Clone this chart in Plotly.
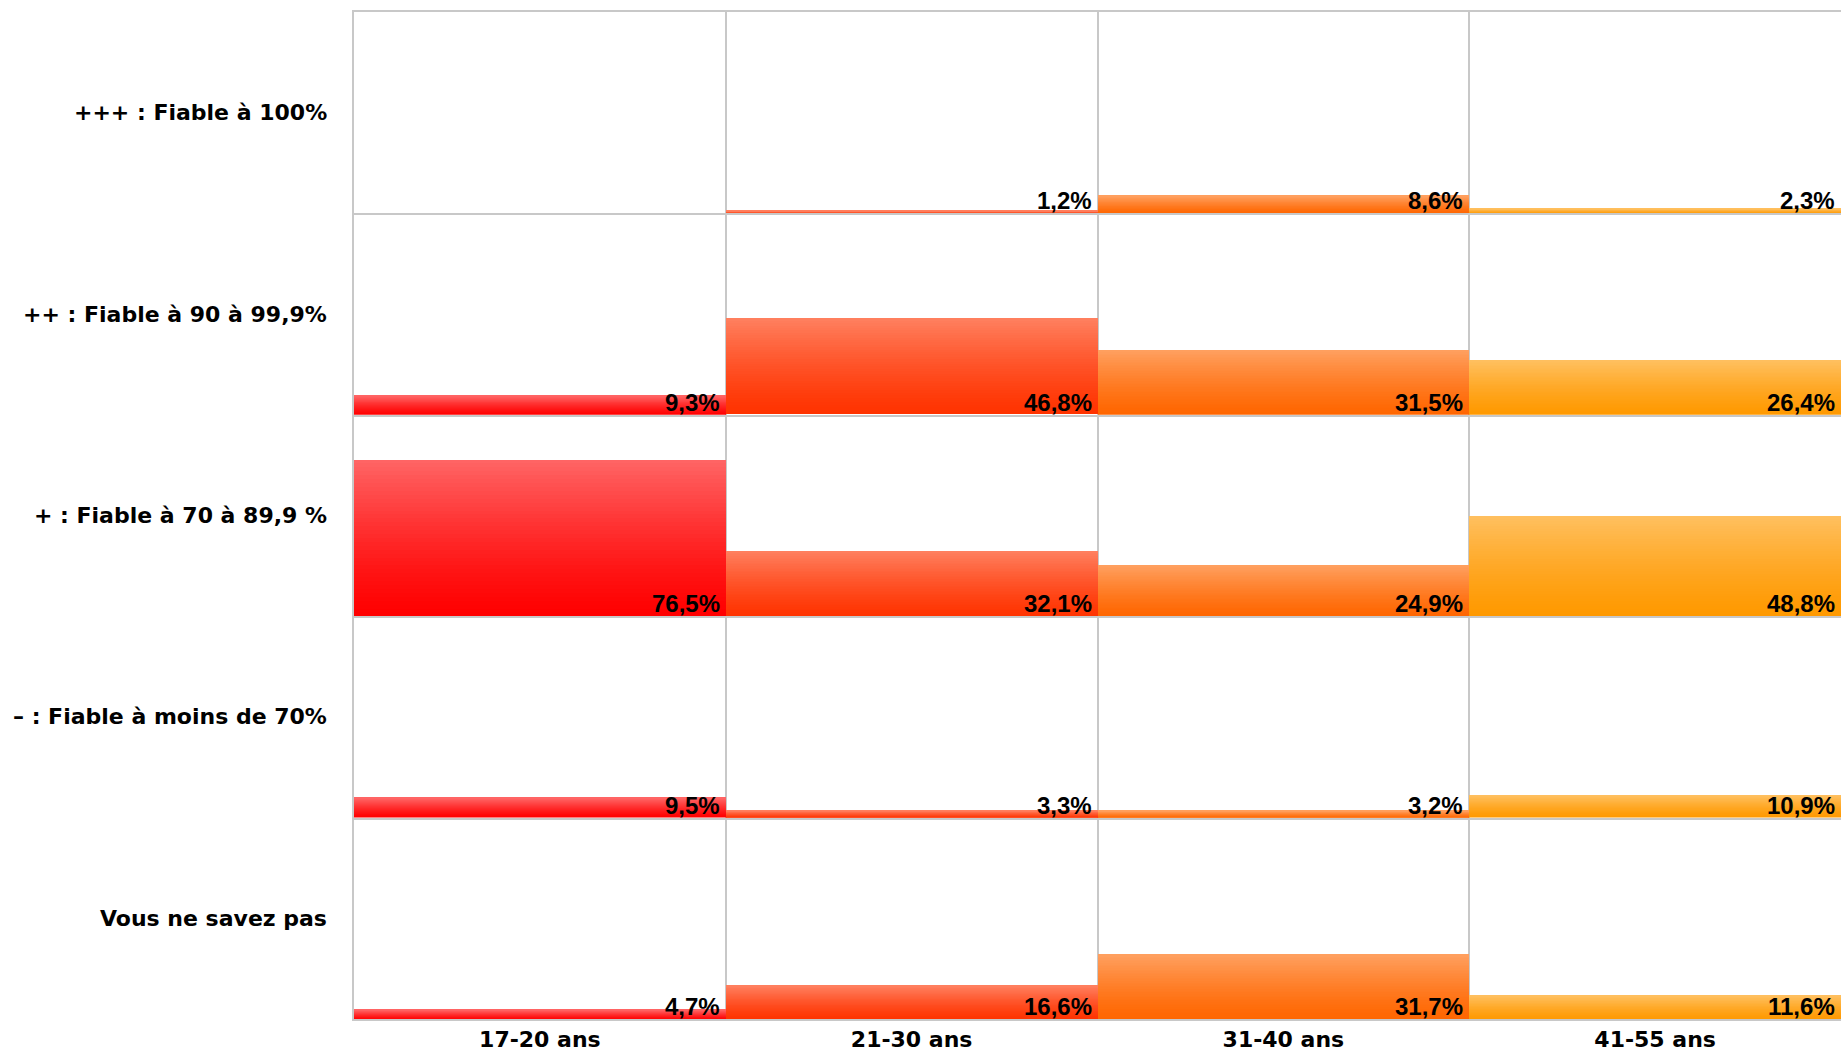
import plotly.graph_objects as go
from plotly.subplots import make_subplots

# ---- data ----
age_groups = ["17-20 ans", "21-30 ans", "31-40 ans", "41-55 ans"]
categories = [
    "+++ : Fiable à 100%",
    "++ : Fiable à 90 à 99,9%",
    "+ : Fiable à 70 à 89,9 %",
    "\u2013 : Fiable à moins de 70%",
    "Vous ne savez pas",
]
values_17_20 = [0.0, 9.3, 76.5, 9.5, 4.7]
values_21_30 = [1.2, 46.8, 32.1, 3.3, 16.6]
values_31_40 = [8.6, 31.5, 24.9, 3.2, 31.7]
values_41_55 = [2.3, 26.4, 48.8, 10.9, 11.6]
series = [values_17_20, values_21_30, values_31_40, values_41_55]

# gradient colors (top light -> bottom saturated) per age group
top_colors = [(255, 102, 102), (255, 128, 96), (255, 160, 96), (255, 192, 96)]
bottom_colors = [(255, 0, 0), (255, 51, 0), (255, 102, 0), (255, 153, 0)]

N_SEG = 40
n_rows = len(categories)

fig = make_subplots(rows=n_rows, cols=1, vertical_spacing=0, shared_xaxes=True)


def mix(c1, c2, t):
    return "rgb(%d,%d,%d)" % tuple(round(a + (b - a) * t) for a, b in zip(c1, c2))


LABEL_FONT = "DejaVu Sans, Verdana, sans-serif"
VALUE_FONT = "Liberation Sans, Arial, sans-serif"

annotations = []
for r in range(n_rows):
    xs, ys, bases, cols = [], [], [], []
    for c in range(len(age_groups)):
        v = series[c][r]
        if v <= 0:
            continue
        seg = v / N_SEG
        for k in range(N_SEG):
            t = (k + 0.5) / N_SEG  # 0 bottom -> 1 top
            xs.append(c)
            ys.append(seg * 1.02 if k < N_SEG - 1 else seg)
            bases.append(seg * k)
            cols.append(mix(bottom_colors[c], top_colors[c], t ** 1.3))
    fig.add_trace(
        go.Bar(
            x=xs, y=ys, base=bases, width=1.0,
            marker=dict(color=cols, line=dict(width=0)),
            showlegend=False, hoverinfo="skip",
        ),
        row=r + 1, col=1,
    )
    ax = "" if r == 0 else str(r + 1)
    for c in range(len(age_groups)):
        v = series[c][r]
        if v <= 0:
            continue
        annotations.append(dict(
            x=c + 0.5, y=0, xref="x" + ax, yref="y" + ax,
            xanchor="right", yanchor="bottom", xshift=-4, yshift=-3,
            text=("%.1f" % v).replace(".", ",") + "%",
            showarrow=False,
            font=dict(family=VALUE_FONT, size=24, color="black", weight="bold"),
        ))
    annotations.append(dict(
        x=0, y=0.5, xref="paper", yref="y" + ax + " domain",
        xanchor="right", yanchor="middle", xshift=-25,
        text=categories[r], showarrow=False,
        font=dict(family=LABEL_FONT, size=22, color="black", weight="bold"),
    ))

grid = "#c8c8c8"
for r in range(n_rows):
    bottom = r == n_rows - 1
    fig.update_xaxes(
        row=r + 1, col=1,
        range=[-0.5, 3.5], tickvals=list(range(len(age_groups))), ticktext=age_groups,
        showticklabels=bottom, ticks="",
        tickfont=dict(family=LABEL_FONT, size=22, color="black", weight="bold"),
        showgrid=False, zeroline=False,
        minor=dict(tick0=0.5, dtick=1, showgrid=True, gridcolor=grid, gridwidth=1.5, ticks=""),
        showline=True, linecolor=grid, linewidth=1.5, mirror=(r == 0),
        fixedrange=True,
    )
    fig.update_yaxes(
        row=r + 1, col=1,
        range=[0, 98.2], showticklabels=False, showgrid=False, zeroline=False,
        showline=True, linecolor=grid, linewidth=1.5, mirror=False,
        fixedrange=True,
    )

fig.update_layout(
    width=1841, height=1053,
    margin=dict(l=354, r=0, t=12, b=34),
    barmode="overlay", bargap=0,
    plot_bgcolor="white", paper_bgcolor="white",
    annotations=annotations,
    showlegend=False,
)
fig.update_xaxes(layer="above traces")

fig.write_html(
    "out.html",
    config={"displayModeBar": False},
    post_script="document.body.style.margin='0';document.body.style.overflow='hidden';",
)
